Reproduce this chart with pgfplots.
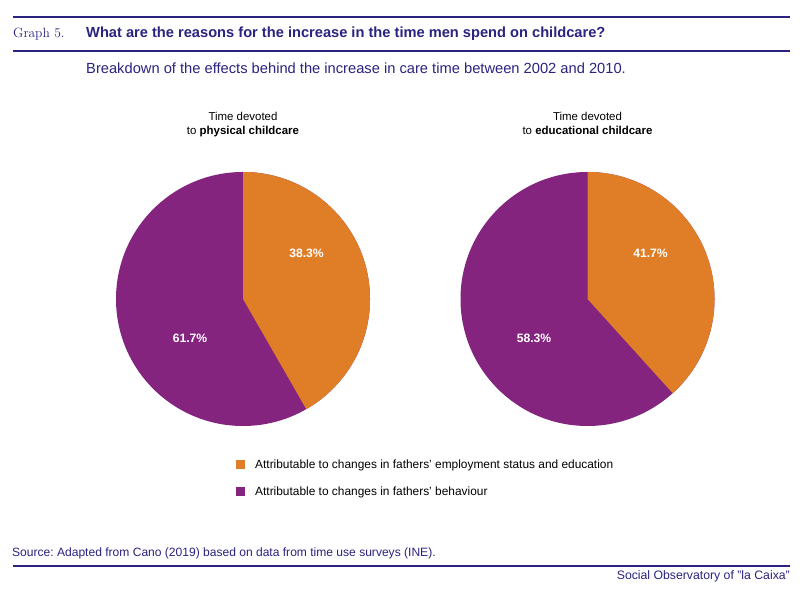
\documentclass[border=0pt]{standalone}
\usepackage{pgfplots}
\pgfplotsset{compat=1.18}
\usepackage{pgfplotstable}
\usepackage{fontspec}
\setmainfont{Liberation Sans}
\newfontfamily\serifgraph{Latin Modern Roman}
\definecolor{cOrange}{HTML}{E07E27}
\definecolor{cPurple}{HTML}{84247E}
\definecolor{cNavy}{HTML}{2B2380}
\frenchspacing

% shares as drawn in the pies (orange = employment/education, purple = behaviour)
\pgfplotstableread{
pie cx orange purple
1 243   41.7 58.3
2 587.5 38.3 61.7
}\piedata

\begin{document}
\begin{tikzpicture}
\begin{axis}[x=1bp, y=1bp, xmin=0, xmax=800, ymin=0, ymax=591,
  hide axis, clip=false, scale only axis, anchor=origin, at={(0,0)}]
\fill[white] (axis cs:0,0) rectangle (axis cs:800,591);
% rules
\draw[cNavy, line width=2bp] (axis cs:13,574) -- (axis cs:790,574);
\draw[cNavy, line width=2bp] (axis cs:13,540) -- (axis cs:790,540);
\draw[cNavy, line width=2bp] (axis cs:13,25) -- (axis cs:790,25);
% titles
\node[anchor=base west, text=cNavy, inner sep=0pt] at (axis cs:13,553) {\serifgraph\fontsize{13.5}{16}\selectfont Graph 5.};
\node[anchor=base west, text=cNavy, inner sep=0pt] at (axis cs:86,553) {\fontsize{14.7}{17}\selectfont\bfseries What are the reasons for the increase in the time men spend on childcare?};
\node[anchor=base west, text=cNavy, inner sep=0pt] at (axis cs:86,517) {\fontsize{14.75}{17}\selectfont Breakdown of the effects behind the increase in care time between 2002 and 2010.};
% pie titles
\node[anchor=base, inner sep=0pt, font=\fontsize{11.5}{14}\selectfont] at (axis cs:243,470) {Time devoted};
\node[anchor=base, inner sep=0pt, font=\fontsize{11.5}{14}\selectfont] at (axis cs:243,456) {to \textbf{physical childcare}};
\node[anchor=base, inner sep=0pt, font=\fontsize{11.5}{14}\selectfont] at (axis cs:587.5,470) {Time devoted};
\node[anchor=base, inner sep=0pt, font=\fontsize{11.5}{14}\selectfont] at (axis cs:587.5,456) {to \textbf{educational childcare}};
% pies
\pgfplotsforeachungrouped \i in {0,1} {
  \pgfplotstablegetelem{\i}{cx}\of\piedata \let\cx\pgfplotsretval
  \pgfplotstablegetelem{\i}{orange}\of\piedata \let\so\pgfplotsretval
  \pgfmathsetmacro\ea{90-3.6*\so}
  \edef\doit{%
    \noexpand\fill[cPurple] (axis cs:\cx,292) circle[radius=127bp];
    \noexpand\fill[cOrange] (axis cs:\cx,292) -- ++(90:127bp) arc[start angle=90, end angle=\ea, radius=127bp] -- cycle;
  }\doit
}
% value labels
\node[text=white, font=\fontsize{12.2}{14}\selectfont\bfseries] at (axis cs:306.5,338) {38.3\%};
\node[text=white, font=\fontsize{12.2}{14}\selectfont\bfseries] at (axis cs:190,253) {61.7\%};
\node[text=white, font=\fontsize{12.2}{14}\selectfont\bfseries] at (axis cs:650.5,338) {41.7\%};
\node[text=white, font=\fontsize{12.2}{14}\selectfont\bfseries] at (axis cs:534,253) {58.3\%};
% legend
\fill[cOrange] (axis cs:236,121.5) rectangle (axis cs:245,130.5);
\fill[cPurple] (axis cs:236,94.8) rectangle (axis cs:245,103.8);
\node[anchor=base west, inner sep=0pt, font=\fontsize{11.95}{14}\selectfont] at (axis cs:255,122) {Attributable to changes in fathers’ employment status and education};
\node[anchor=base west, inner sep=0pt, font=\fontsize{11.95}{14}\selectfont] at (axis cs:255,95) {Attributable to changes in fathers’ behaviour};
% source
\node[anchor=base west, text=cNavy, inner sep=0pt, font=\fontsize{12.1}{14}\selectfont] at (axis cs:12,34) {Source: Adapted from Cano (2019) based on data from time use surveys (INE).};
\node[anchor=base east, text=cNavy, inner sep=0pt, font=\fontsize{12.3}{14}\selectfont] at (axis cs:790,11) {Social Observatory of "la Caixa"};
\end{axis}
\end{tikzpicture}
\end{document}
